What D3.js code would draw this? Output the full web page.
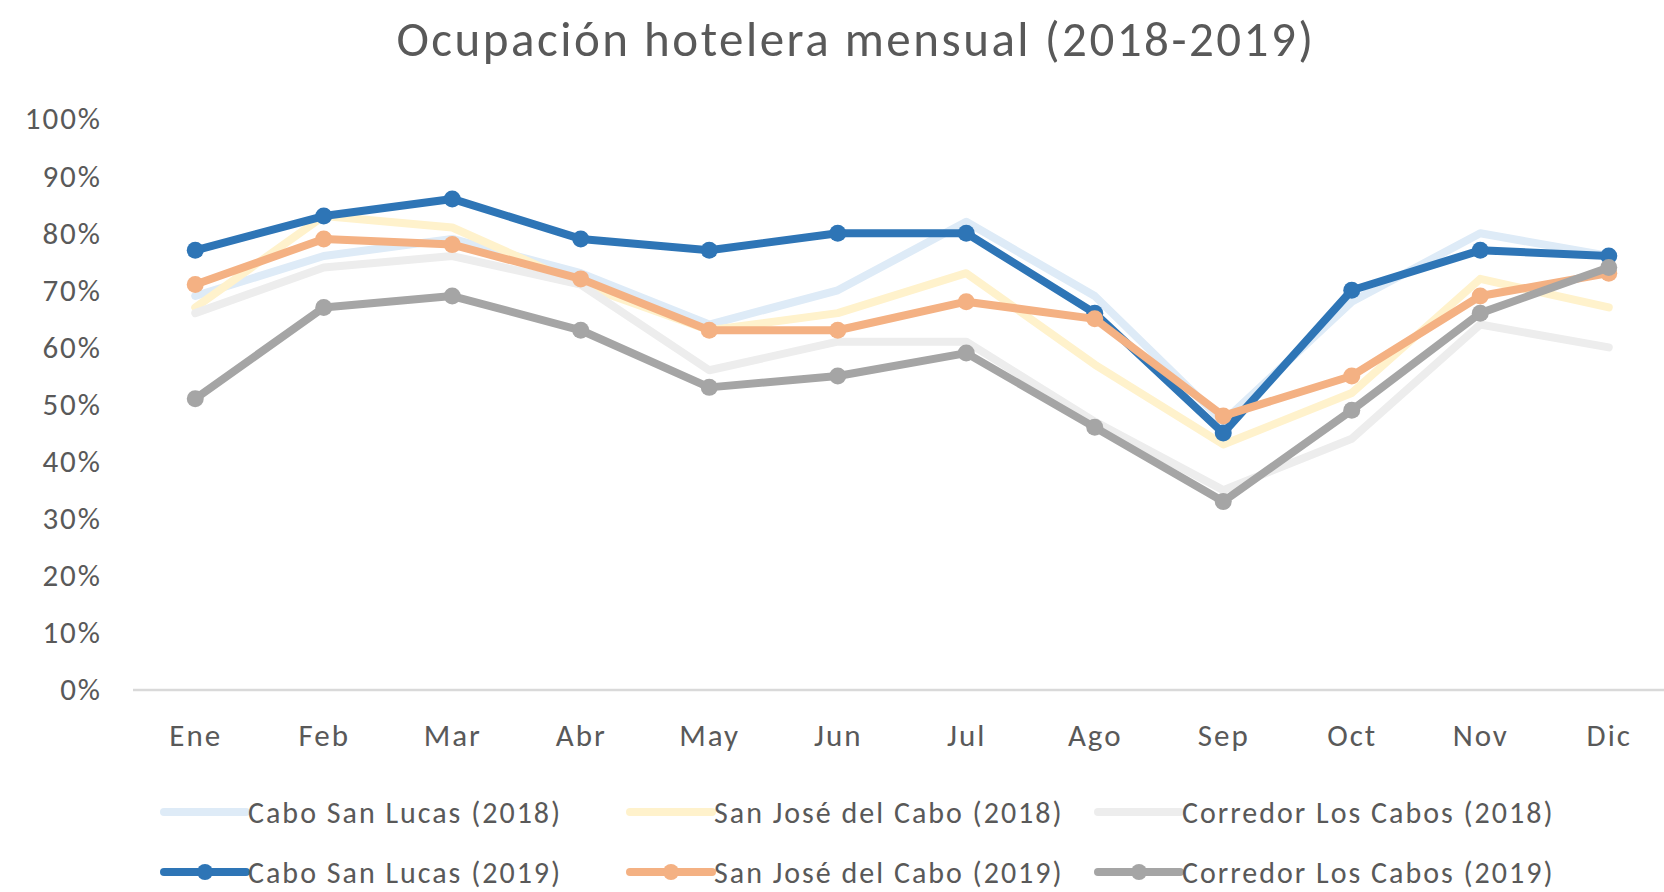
<!DOCTYPE html>
<html lang="es">
<head>
<meta charset="UTF-8">
<title>Ocupación hotelera mensual (2018-2019)</title>
<script src="https://d3js.org/d3.v7.min.js"></script>
<style>
  html, body { margin: 0; padding: 0; background: #fff; }
  svg text { font-family: Carlito, Calibri, Lato, sans-serif; fill: #595959; }
</style>
</head>
<body>
<svg id="chart" width="1664" height="892"></svg>
<script>
// months (category axis)
const months = ["Ene", "Feb", "Mar", "Abr", "May", "Jun", "Jul", "Ago", "Sep", "Oct", "Nov", "Dic"];
const yTicks = [0, 10, 20, 30, 40, 50, 60, 70, 80, 90, 100];

// occupancy values, percent
const caboSanLucas2018 = [69, 76, 79, 73, 64, 70, 82, 69, 47, 68, 80, 76];
const sanJose2018      = [67, 83, 81, 71, 63, 66, 73, 57, 43, 52, 72, 67];
const corredor2018     = [66, 74, 76, 71, 56, 61, 61, 47, 35, 44, 64, 60];
const caboSanLucas2019 = [77, 83, 86, 79, 77, 80, 80, 66, 45, 70, 77, 76];
const sanJose2019      = [71, 79, 78, 72, 63, 63, 68, 65, 48, 55, 69, 73];
const corredor2019     = [51, 67, 69, 63, 53, 55, 59, 46, 33, 49, 66, 74];

const series = [
  { name: "Cabo San Lucas (2018)", values: caboSanLucas2018, color: "#DEEBF7", markers: false },
  { name: "San José del Cabo (2018)", values: sanJose2018, color: "#FFF2CC", markers: false },
  { name: "Corredor Los Cabos (2018)", values: corredor2018, color: "#EDEDED", markers: false },
  { name: "Cabo San Lucas (2019)", values: caboSanLucas2019, color: "#2E75B6", markers: true },
  { name: "San José del Cabo (2019)", values: sanJose2019, color: "#F4B183", markers: true },
  { name: "Corredor Los Cabos (2019)", values: corredor2019, color: "#A5A5A5", markers: true }
];

const svg = d3.select("#chart");

const x = d3.scalePoint().domain(months).range([131, 1673]).padding(0.5);
const y = d3.scaleLinear().domain([0, 100]).range([690, 119]);

// title
svg.append("text")
  .attr("x", 856).attr("y", 56)
  .attr("text-anchor", "middle")
  .style("font-size", "49px")
  .style("letter-spacing", "2.5px")
  .text("Ocupación hotelera mensual (2018-2019)");

// y axis labels (no gridlines in the original)
const yAxis = d3.axisLeft(y).tickValues(yTicks).tickFormat(d => d + "%").tickSize(0).tickPadding(0);
const gy = svg.append("g").attr("transform", "translate(102,0)").call(yAxis);
gy.select(".domain").remove();
gy.selectAll("text")
  .style("font-size", "31px")
  .style("letter-spacing", "2px")
  .attr("fill", "#595959");

// x axis
const xAxis = d3.axisBottom(x).tickSize(0).tickPadding(34);
const gx = svg.append("g").attr("transform", "translate(0," + y(0) + ")").call(xAxis);
gx.select(".domain").attr("d", "M133,0H1664").attr("stroke", "#D9D9D9").attr("stroke-width", 2.5);
gx.selectAll("text")
  .style("font-size", "31px")
  .style("letter-spacing", "2px")
  .attr("fill", "#595959");

const line = d3.line()
  .x((d, i) => x(months[i]))
  .y(d => y(d));

// lines
series.forEach(s => {
  svg.append("path")
    .datum(s.values)
    .attr("fill", "none")
    .attr("stroke", s.color)
    .attr("stroke-width", 8)
    .attr("stroke-linejoin", "round")
    .attr("stroke-linecap", "round")
    .attr("d", line);

  if (s.markers) {
    svg.append("g").selectAll("circle")
      .data(s.values)
      .join("circle")
      .attr("cx", (d, i) => x(months[i]))
      .attr("cy", d => y(d))
      .attr("r", 8.5)
      .attr("fill", s.color);
  }
});

// legend, two rows of three
const legendCols = [164, 630, 1098];
const legendRows = [812, 872];
const legend = svg.append("g");
series.forEach((s, i) => {
  const lx = legendCols[i % 3];
  const ly = legendRows[Math.floor(i / 3)];
  const g = legend.append("g").attr("transform", "translate(" + lx + "," + ly + ")");
  g.append("line")
    .attr("x1", 0).attr("x2", 82)
    .attr("stroke", s.color)
    .attr("stroke-width", 8)
    .attr("stroke-linecap", "round");
  if (s.markers) {
    g.append("circle").attr("cx", 41).attr("r", 8).attr("fill", s.color);
  }
  g.append("text")
    .attr("x", 84)
    .attr("dy", "0.35em")
    .style("font-size", "30px")
    .style("letter-spacing", "2px")
    .text(s.name);
});
</script>
</body>
</html>
